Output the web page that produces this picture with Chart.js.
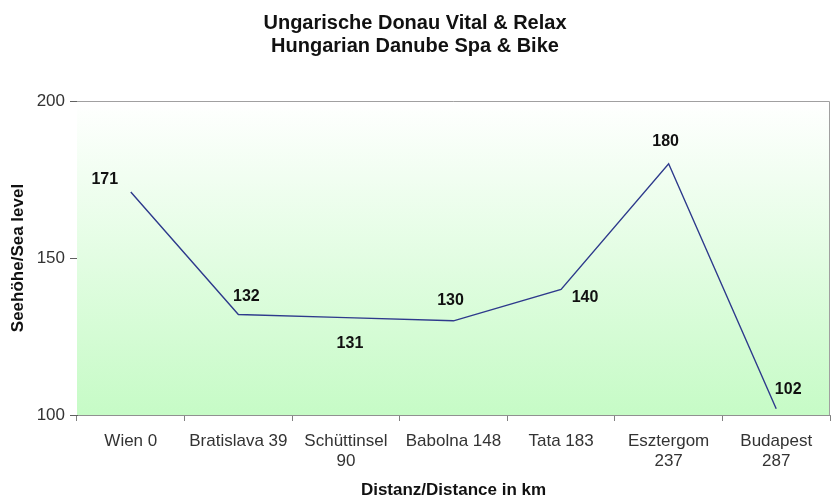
<!DOCTYPE html>
<html>
<head>
<meta charset="utf-8">
<script src="https://cdn.jsdelivr.net/npm/chart.js@4/dist/chart.umd.min.js"></script>
<style>
  body { margin: 0; background: #fff; }
  #wrap { width: 832px; height: 495px; }
</style>
</head>
<body>
<div id="wrap"><canvas id="profile"></canvas></div>
<script>
// stations along the route, label lines as printed on the axis
const stations = [
  ["Wien 0"],
  ["Bratislava 39"],
  ["Schüttinsel", "90"],
  ["Babolna 148"],
  ["Tata 183"],
  ["Esztergom", "237"],
  ["Budapest", "287"]
];
const altitude = [171, 132, 131, 130, 140, 180, 102];
const yTicks = [100, 150, 200];

// where each value label sits relative to its point (dx, dy)
const labelShift = [[-26, -12], [8, -18], [4, 26], [-3, -20], [24, 8], [-3, -22], [12, -19]];

const FONT = "'Liberation Sans', Arial, sans-serif";

const plotDecor = {
  id: "plotDecor",
  beforeDatasetsDraw(chart) {
    const { ctx, chartArea: a } = chart;
    const g = ctx.createLinearGradient(0, a.top, 0, a.bottom);
    g.addColorStop(0, "#ffffff");
    g.addColorStop(1, "#c6fbc6");
    ctx.save();
    ctx.fillStyle = g;
    ctx.fillRect(a.left, a.top, a.right - a.left, a.bottom - a.top);
    ctx.strokeStyle = "#a0a0a0";
    ctx.lineWidth = 1;
    ctx.beginPath();
    ctx.moveTo(a.left, a.top + 0.5);
    ctx.lineTo(a.right - 0.5, a.top + 0.5);
    ctx.lineTo(a.right - 0.5, a.bottom);
    ctx.stroke();
    ctx.restore();
  },
  afterDatasetsDraw(chart) {
    const { ctx } = chart;
    const pts = chart.getDatasetMeta(0).data;
    ctx.save();
    ctx.font = "bold 16px " + FONT;
    ctx.fillStyle = "#111";
    ctx.textAlign = "center";
    ctx.textBaseline = "middle";
    pts.forEach((p, i) => {
      ctx.fillText(altitude[i], p.x + labelShift[i][0], p.y + labelShift[i][1]);
    });
    ctx.restore();
  }
};

new Chart(document.getElementById("profile"), {
  type: "line",
  data: {
    labels: stations,
    datasets: [{
      data: altitude,
      borderColor: "#2e3a8c",
      borderWidth: 1.4,
      pointRadius: 0,
      tension: 0,
      fill: false
    }]
  },
  options: {
    responsive: true,
    maintainAspectRatio: false,
    animation: false,
    layout: { padding: { left: 0, right: 2, top: 0, bottom: 0 } },
    plugins: {
      legend: { display: false },
      tooltip: { enabled: false },
      title: {
        display: true,
        text: ["Ungarische Donau Vital & Relax", "Hungarian Danube Spa & Bike"],
        color: "#111",
        font: { family: FONT, size: 20, weight: "bold", lineHeight: 1.15 },
        padding: { top: 12, bottom: 43 }
      }
    },
    scales: {
      x: {
        offset: true,
        grid: { offset: true, drawOnChartArea: false, tickLength: 6, color: "#808080" },
        border: { color: "#909090" },
        ticks: {
          color: "#333",
          font: { family: FONT, size: 17 },
          maxRotation: 0,
          autoSkip: false,
          padding: 10
        },
        title: {
          display: true,
          text: "Distanz/Distance in km",
          color: "#111",
          font: { family: FONT, size: 17, weight: "bold", lineHeight: 0.6 },
          padding: 0
        },
        afterFit(s) { s.height = 80; }
      },
      y: {
        min: 100,
        max: 200,
        afterBuildTicks(s) { s.ticks = yTicks.map(v => ({ value: v })); },
        grid: { drawOnChartArea: false, tickLength: 7, color: "#606060" },
        border: { color: "#606060" },
        ticks: {
          color: "#333",
          font: { family: FONT, size: 17 },
          padding: 5
        },
        title: {
          display: true,
          text: "Seehöhe/Sea level",
          color: "#111",
          font: { family: FONT, size: 17, weight: "bold" },
          padding: { top: 8, bottom: 0 }
        },
        afterFit(s) { s.width = 77; }
      }
    }
  },
  plugins: [plotDecor]
});
</script>
</body>
</html>
